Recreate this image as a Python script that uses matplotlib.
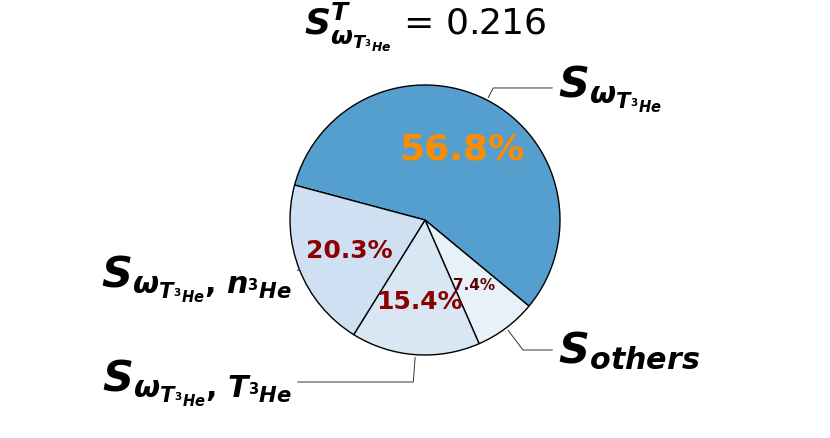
import matplotlib.pyplot as plt
import numpy as np

# shares of the total index, clockwise from the top-left edge
shares = [56.84, 7.43, 15.42, 20.31]
he3 = r'{}^{\mathbf{3}}\mathbfit{He}'
labels = [r'$\mathbfit{S}_{\mathbfit{\omega}_{\mathbfit{T}_{' + he3 + r'}}}$',
          r'$\mathbfit{S}_{\mathbfit{others}}$',
          r'$\mathbfit{S}_{\mathbfit{\omega}_{\mathbfit{T}_{' + he3 + r'}}\mathbf{,}\ \mathbfit{T}_{' + he3 + r'}}$',
          r'$\mathbfit{S}_{\mathbfit{\omega}_{\mathbfit{T}_{' + he3 + r'}}\mathbf{,}\ \mathbfit{n}_{' + he3 + r'}}$']
colors = ['#559fcf', '#e8f0f9', '#d9e7f4', '#cfe0f2']
pct_colors = ['#ff8c00', '#5a0000', '#8b0000', '#8b0000']
pct_sizes = [26, 11, 18, 18]
total_index = 0.216

# where each outer label sits (data units, radius = 1)
label_xy = [(0.985, 0.978), (0.985, -0.963), (-0.985, -1.2), (-0.985, -0.43)]

fig = plt.figure(figsize=(8.3, 4.39), dpi=100)
ax = fig.add_axes([256.25 / 830, 49.25 / 439, 337.5 / 830, 337.5 / 439])

wedges, texts, autotexts = ax.pie(shares, colors=colors, startangle=165, counterclock=False,
                                  autopct='%1.1f%%', pctdistance=0.6,
                                  wedgeprops=dict(edgecolor='black', linewidth=1))
for t, c, s in zip(autotexts, pct_colors, pct_sizes):
    t.set_color(c)
    t.set_fontsize(s)
    t.set_fontweight('bold')

for i, w in enumerate(wedges):
    ang = (w.theta2 - w.theta1) / 2. + w.theta1
    y = np.sin(np.deg2rad(ang))
    x = np.cos(np.deg2rad(ang))
    tx, ty = label_xy[i]
    ha = 'left' if tx > 0 else 'right'
    ax.annotate(labels[i], xy=(x, y), xytext=(tx, ty), ha=ha, va='center', fontsize=31,
                arrowprops=dict(arrowstyle='-', color='#333333', lw=0.7,
                                connectionstyle=f'angle,angleA=0,angleB={ang}'))

ax.set_xlim(-1.25, 1.25)
ax.set_ylim(-1.25, 1.25)
ax.set_aspect('equal')

fig.text(425 / 830, 1 - 34 / 439,
         r'$\mathbfit{S}^{\mathbfit{T}}_{\mathbfit{\omega}_{\mathbfit{T}_{' + he3 + r'}}}$' + f' = {total_index}',
         ha='center', va='baseline', fontsize=26)

fig.savefig('out.png', dpi=100)
